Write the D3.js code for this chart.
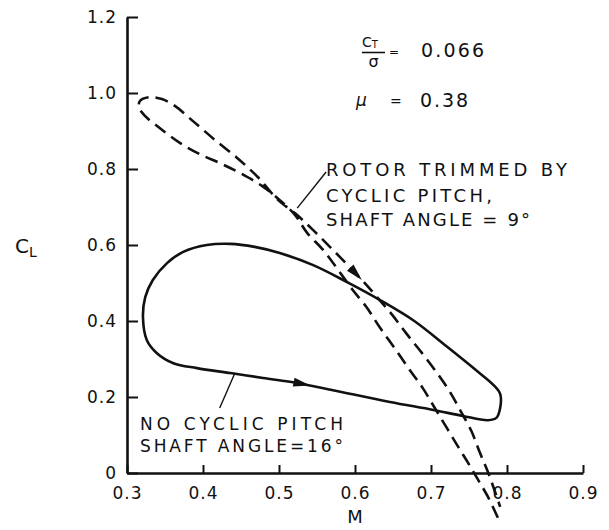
<!DOCTYPE html>
<html>
<head>
<meta charset="utf-8">
<script src="https://cdn.jsdelivr.net/npm/d3@7/dist/d3.min.js"></script>
<style>
  html, body { margin: 0; padding: 0; background: #fff; }
  svg { display: block; }
  text { font-family: "DejaVu Sans", sans-serif; fill: #111; }
</style>
</head>
<body>
<svg id="chart" width="609" height="530"></svg>
<script>
// Tick values for the two axes
const machTicks = [0.3, 0.4, 0.5, 0.6, 0.7, 0.8, 0.9];
const liftTicks = [0, 0.2, 0.4, 0.6, 0.8, 1.0, 1.2];

// Rotor without cyclic pitch, shaft angle 16 deg (closed loop, travelled
// left-to-right along the lower branch)
const noCyclicM  = [0.321, 0.326, 0.339, 0.361, 0.392, 0.436, 0.479, 0.524, 0.571, 0.646, 0.703, 0.742, 0.775, 0.786, 0.791, 0.791, 0.782, 0.759, 0.720, 0.678, 0.633, 0.589, 0.545, 0.501, 0.468, 0.436, 0.405, 0.374, 0.353, 0.334, 0.324];
const noCyclicCL = [0.411, 0.350, 0.316, 0.289, 0.276, 0.263, 0.250, 0.237, 0.218, 0.187, 0.166, 0.150, 0.139, 0.145, 0.171, 0.208, 0.232, 0.271, 0.334, 0.400, 0.455, 0.503, 0.547, 0.579, 0.595, 0.603, 0.600, 0.582, 0.553, 0.508, 0.463];

// Rotor trimmed by cyclic pitch, shaft angle 9 deg (open loop)
const trimmedM  = [0.788, 0.775, 0.762, 0.749, 0.736, 0.721, 0.705, 0.689, 0.672, 0.653, 0.633, 0.615, 0.596, 0.578, 0.558, 0.537, 0.521, 0.501, 0.478, 0.451, 0.425, 0.396, 0.370, 0.343, 0.324, 0.316, 0.317, 0.330, 0.346, 0.363, 0.388, 0.416, 0.445, 0.472, 0.499, 0.522, 0.545, 0.571, 0.609, 0.629, 0.649, 0.668, 0.688, 0.708, 0.725, 0.739, 0.753, 0.764, 0.776, 0.791];
const trimmedCL = [-0.118, -0.063, -0.018, 0.026, 0.068, 0.118, 0.171, 0.224, 0.271, 0.326, 0.382, 0.437, 0.484, 0.534, 0.587, 0.632, 0.679, 0.718, 0.755, 0.787, 0.813, 0.839, 0.868, 0.908, 0.939, 0.961, 0.979, 0.989, 0.984, 0.966, 0.924, 0.876, 0.829, 0.779, 0.718, 0.682, 0.639, 0.587, 0.508, 0.463, 0.416, 0.366, 0.316, 0.263, 0.213, 0.163, 0.111, 0.055, -0.003, -0.089];

// Direction arrows (point on each curve where the arrowhead tip sits)
const noCyclicArrow = [0.541, 0.229];
const trimmedArrow  = [0.609, 0.508];

// Leader lines from the labels to the curves
const trimmedLeaderM  = [0.562, 0.524];
const trimmedLeaderCL = [0.792, 0.697];
const noCyclicLeaderM  = [0.422, 0.442];
const noCyclicLeaderCL = [0.171, 0.263];

const svg = d3.select("#chart");
const plotLeft = 127, plotTop = 17, plotSize = 456;

const x = d3.scaleLinear().domain([0.3, 0.9]).range([plotLeft, plotLeft + plotSize]);
const y = d3.scaleLinear().domain([0, 1.2]).range([plotTop + plotSize, plotTop]);

// Axes: ticks point into the plot, labels outside
const fmt = d => d === 0 ? "0" : d3.format(".1f")(d);

const yAxis = svg.append("g")
  .attr("transform", `translate(${plotLeft},0)`)
  .call(d3.axisLeft(y).tickValues(liftTicks).tickFormat(fmt)
    .tickSizeInner(-11).tickSizeOuter(0).tickPadding(10));
const xAxis = svg.append("g")
  .attr("transform", `translate(0,${plotTop + plotSize})`)
  .call(d3.axisBottom(x).tickValues(machTicks).tickFormat(fmt)
    .tickSizeInner(-8).tickSizeOuter(0).tickPadding(14));

[yAxis, xAxis].forEach(g => {
  g.select(".domain").attr("stroke", "#111").attr("stroke-width", 2.6);
  g.selectAll(".tick line").attr("stroke", "#111").attr("stroke-width", 2);
  g.selectAll(".tick text")
    .attr("font-family", "DejaVu Sans, sans-serif")
    .attr("font-size", 17)
    .attr("letter-spacing", 1)
    .attr("fill", "#111");
});

// Axis titles
svg.append("text").attr("x", x(0.6)).attr("y", 523)
  .attr("text-anchor", "middle").attr("font-size", 18).text("M");
const cl = svg.append("text").attr("x", 15).attr("y", 253).attr("font-size", 20);
cl.append("tspan").text("C");
cl.append("tspan").attr("font-size", 14).attr("dy", 4).text("L");

// Curves
const noCyclicPts = noCyclicM.map((m, i) => [m, noCyclicCL[i]]);
const trimmedPts  = trimmedM.map((m, i) => [m, trimmedCL[i]]);

const closedLine = d3.line().x(d => x(d[0])).y(d => y(d[1]))
  .curve(d3.curveCatmullRomClosed.alpha(0.5));
const openLine = d3.line().x(d => x(d[0])).y(d => y(d[1]))
  .curve(d3.curveCatmullRom.alpha(0.5));

const solidPath = svg.append("path")
  .attr("d", closedLine(noCyclicPts))
  .attr("fill", "none").attr("stroke", "#111").attr("stroke-width", 2.6)
  .attr("stroke-linejoin", "round");

const dashedPath = svg.append("path")
  .attr("d", openLine(trimmedPts))
  .attr("fill", "none").attr("stroke", "#111").attr("stroke-width", 2.6)
  .attr("stroke-dasharray", "13,7");

// Arrowhead placed on a path at the point closest to a data point,
// aligned with the path's direction of travel
function arrowhead(pathSel, pt) {
  const node = pathSel.node();
  const total = node.getTotalLength();
  const tx = x(pt[0]), ty = y(pt[1]);
  let best = 0, bestD = Infinity;
  for (let l = 0; l <= total; l += 0.5) {
    const p = node.getPointAtLength(l);
    const dd = (p.x - tx) ** 2 + (p.y - ty) ** 2;
    if (dd < bestD) { bestD = dd; best = l; }
  }
  const tip = node.getPointAtLength(best);
  const back = node.getPointAtLength(Math.max(0, best - 6));
  let dx = tip.x - back.x, dy = tip.y - back.y;
  const n = Math.hypot(dx, dy); dx /= n; dy /= n;
  const len = 17, hw = 4.5;
  const bx = tip.x - dx * len, by = tip.y - dy * len;
  svg.append("path")
    .attr("d", `M${tip.x},${tip.y}L${bx - dy * hw},${by + dx * hw}L${bx + dy * hw},${by - dx * hw}Z`)
    .attr("fill", "#111");
}
arrowhead(solidPath, noCyclicArrow);
arrowhead(dashedPath, trimmedArrow);

// Leader lines
const leader = (ms, cls) => svg.append("line")
  .attr("x1", x(ms[0])).attr("y1", y(cls[0]))
  .attr("x2", x(ms[1])).attr("y2", y(cls[1]))
  .attr("stroke", "#111").attr("stroke-width", 1.4);
leader(trimmedLeaderM, trimmedLeaderCL);
leader(noCyclicLeaderM, noCyclicLeaderCL);

// Labels
function label(tx, ty, str, len, fs) {
  svg.append("text").attr("x", tx).attr("y", ty)
    .attr("font-size", fs)
    .attr("textLength", len).attr("lengthAdjust", "spacing")
    .text(str);
}
label(326, 176, "ROTOR TRIMMED BY", 241, 18);
label(326, 202, "CYCLIC PITCH,", 166, 18);
label(326, 226, "SHAFT ANGLE = 9°", 204, 18);
label(140, 430, "NO CYCLIC PITCH", 203, 17);
label(140, 452, "SHAFT ANGLE=16°", 203, 17);

// Operating condition: thrust coefficient over solidity, advance ratio
const ct = svg.append("text").attr("x", 362).attr("y", 47).attr("font-size", 14);
ct.append("tspan").text("C");
ct.append("tspan").attr("font-size", 10).attr("dy", 1).text("T");
svg.append("line").attr("x1", 362).attr("x2", 385).attr("y1", 52.5).attr("y2", 52.5)
  .attr("stroke", "#111").attr("stroke-width", 1.6);
svg.append("text").attr("x", 373.5).attr("y", 67).attr("text-anchor", "middle")
  .attr("font-size", 16).text("σ");
svg.append("text").attr("x", 389).attr("y", 56).attr("font-size", 12).text("=");
label(421, 57, "0.066", 63, 19);

svg.append("text").attr("x", 356).attr("y", 106).attr("font-size", 17)
  .attr("font-style", "italic").text("μ");
svg.append("text").attr("x", 390).attr("y", 106).attr("font-size", 14).text("=");
label(420, 107, "0.38", 48, 19);
</script>
</body>
</html>
